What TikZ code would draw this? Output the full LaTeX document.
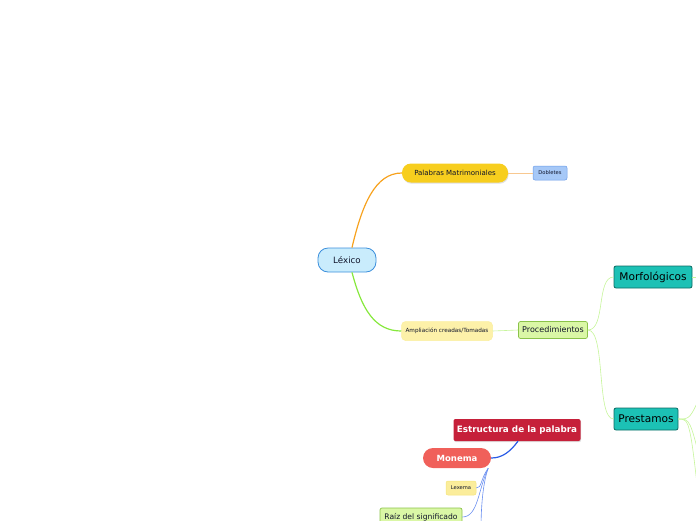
\documentclass[tikz,border=0pt]{standalone}
\usepackage{fontspec}
\setmainfont{DejaVu Sans}
\usetikzlibrary{shadows}
\definecolor{azulclaro}{HTML}{C9ECFC}
\definecolor{azulborde}{HTML}{3C8FDC}
\definecolor{amarillo}{HTML}{F7CE1E}
\definecolor{amarilloclaro}{HTML}{FDF1A9}
\definecolor{amarilloborde}{HTML}{F5E57A}
\definecolor{azulcaja}{HTML}{A6C8F7}
\definecolor{azulcajaborde}{HTML}{6A9BE8}
\definecolor{verdeclaro}{HTML}{DAF7A6}
\definecolor{verdeborde}{HTML}{8BC34A}
\definecolor{turquesa}{HTML}{1CC1B5}
\definecolor{turquesaborde}{HTML}{0B6B63}
\definecolor{granate}{HTML}{C6203A}
\definecolor{salmon}{HTML}{F0605A}
\definecolor{naranja}{HTML}{F7A21E}
\definecolor{naranjaclaro}{HTML}{F8C890}
\definecolor{verde}{HTML}{86E83C}
\definecolor{verdelinea}{HTML}{C6F59A}
\definecolor{azul}{HTML}{2A5CE6}
\definecolor{azullinea}{HTML}{6A8FF0}
\definecolor{tinta}{HTML}{10142A}
\begin{document}
\begin{tikzpicture}[x=1pt, y=-1pt,
    caja/.style={inner sep=0pt, align=center, text=tinta},
    sombra/.style={drop shadow={opacity=0.25, shadow xshift=0.6pt, shadow yshift=-1.2pt}},
    tam/.style 2 args={minimum width=#1pt, minimum height=#2pt},
    letra/.style={font=\fontsize{#1}{#1}\selectfont},
    negrita/.style={font=\fontsize{#1}{#1}\selectfont\bfseries, text=white}]
    \useasboundingbox (0,0) rectangle (696,520);
    \clip (0,0) rectangle (696,520);
    % nodos
    \node[caja, tam={58}{24}, letra=8.7, fill=azulclaro, draw=azulborde, line width=0.8pt, rounded corners=10pt] (lex) at (347,260) {Léxico};
    \node[caja, tam={106}{19}, letra=7, fill=amarillo, rounded corners=9pt, sombra] (pal) at (455,173) {Palabras Matrimoniales};
    \node[caja, tam={34}{14}, letra=5.2, fill=azulcaja, draw=azulcajaborde, line width=0.5pt, rounded corners=2pt] (dob) at (550,173) {Dobletes};
    \node[caja, tam={91}{19}, letra=5.7, fill=amarilloclaro, draw=amarilloclaro!80!amarilloborde, line width=0.5pt, rounded corners=4pt] (amp) at (447,331) {Ampliación creadas/Tomadas};
    \node[caja, tam={69}{17}, letra=8, fill=verdeclaro, draw=verdeborde, line width=0.7pt, rounded corners=2pt] (pro) at (553,330) {Procedimientos};
    \node[caja, tam={78}{22}, letra=10.6, fill=turquesa, draw=turquesaborde, line width=0.8pt, rounded corners=2pt, text=black] (mor) at (653,277) {Morfológicos};
    \node[caja, tam={64}{22}, letra=10.6, fill=turquesa, draw=turquesaborde, line width=0.8pt, rounded corners=2pt, text=black] (pre) at (646,419) {Prestamos};
    \node[caja, tam={127}{22}, negrita=8.8, fill=granate, rounded corners=2pt, sombra] (est) at (517,430) {Estructura de la palabra};
    \node[caja, tam={68}{20}, negrita=8.5, fill=salmon, rounded corners=10pt] (mon) at (457,458) {Monema};
    \node[caja, tam={30}{14}, letra=5.2, fill=amarilloclaro!70!amarilloborde, draw=amarilloborde, line width=0.5pt, rounded corners=2pt] (lexe) at (461,488) {Lexema};
    \node[caja, tam={82}{18}, letra=7.6, fill=verdeclaro, draw=verdeborde, line width=0.7pt, rounded corners=2pt] (raiz) at (421,517) {Raíz del significado};
    % extremos fuera del dibujo
    \coordinate (fm) at (702,277);
    \coordinate (fp1) at (702,392);
    \coordinate (fp2) at (702,468);
    \coordinate (fp3) at (702,530);
    \coordinate (fmo) at (481,530);
    % conectores
    \draw[naranja, line width=1.2pt] ([xshift=5pt]lex.north) .. controls (362,205) and (375,173) .. (pal.west);
    \draw[naranjaclaro, line width=0.5pt] (pal.east) -- (dob.west);
    \draw[verde, line width=1.2pt] ([xshift=5pt]lex.south) .. controls (362,310) and (375,331) .. (amp.west);
    \draw[verdelinea, line width=0.6pt] (amp.east) -- (pro.west);
    \draw[verdelinea, line width=0.6pt] (pro.east) .. controls (606,330) and (596,277) .. (mor.west);
    \draw[verdelinea, line width=0.6pt] (pro.east) .. controls (606,330) and (596,419) .. (pre.west);
    \draw[verdelinea, line width=0.6pt] (mor.east) -- (fm);
    \foreach \f in {fp1,fp2,fp3}
        \draw[verdelinea, line width=0.6pt] (pre.east) .. controls (690,419) and (690,419) .. (\f);
    \draw[azul, line width=1.2pt] ([xshift=1pt]est.south) .. controls (510,452) and (502,458) .. (mon.east);
    \draw[azullinea, line width=0.6pt] ([xshift=-3pt]mon.south east) .. controls (480,480) and (482,488) .. (lexe.east);
    \draw[azullinea, line width=0.6pt] ([xshift=-3pt]mon.south east) .. controls (478,490) and (478,517) .. (raiz.east);
    \draw[azullinea, line width=0.6pt] ([xshift=-3pt]mon.south east) .. controls (484,480) and (481,500) .. (fmo);
\end{tikzpicture}
\end{document}
